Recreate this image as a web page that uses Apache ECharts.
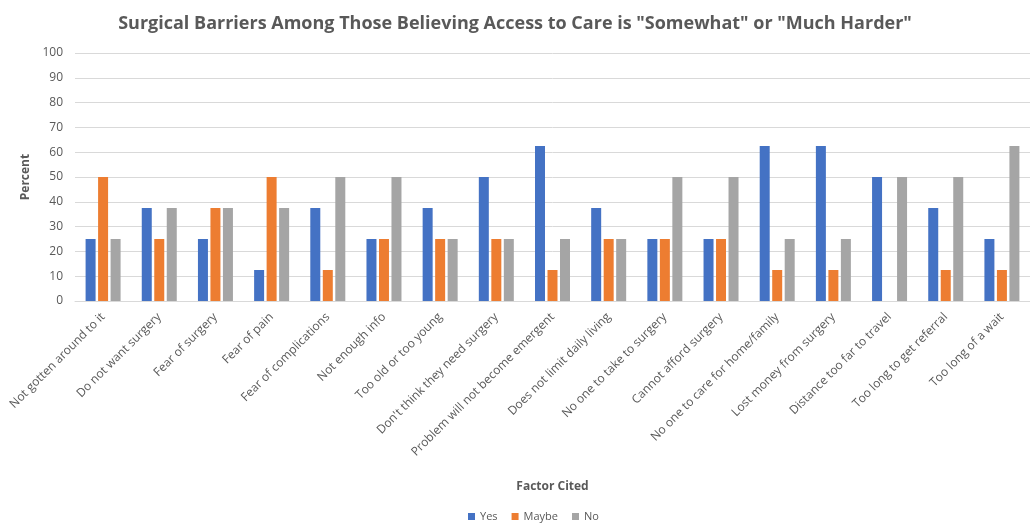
<!DOCTYPE html>
<html><head><meta charset="utf-8">
<script src="https://cdn.jsdelivr.net/npm/echarts@6/dist/echarts.min.js"></script>
<style>html,body{margin:0;padding:0;background:#fff}#c{width:1030px;height:529px}</style>
</head><body><div id="c"></div>
<script>
const categories = ["Not gotten around to it","Do not want surgery","Fear of surgery","Fear of pain","Fear of complications","Not enough info","Too old or too young","Don't think they need surgery","Problem will not become emergent","Does not limit daily living","No one to take to surgery","Cannot afford surgery","No one to care for home/family","Lost money from surgery","Distance too far to travel","Too long to get referral","Too long of a wait"];
const yesVals   = [25, 37.5, 25, 12.5, 37.5, 25, 37.5, 50, 62.5, 37.5, 25, 25, 62.5, 62.5, 50, 37.5, 25];
const maybeVals = [50, 25, 37.5, 50, 12.5, 25, 25, 25, 12.5, 25, 25, 25, 12.5, 12.5, 0, 12.5, 12.5];
const noVals    = [25, 37.5, 37.5, 37.5, 50, 50, 25, 25, 25, 25, 50, 50, 25, 25, 50, 50, 62.5];
const seriesNames = ["Yes", "Maybe", "No"];
const yTicks = {min: 0, max: 100, interval: 10};

const chart = echarts.init(document.getElementById('c'));
const txt = '#595959';
const ff = '"Open Sans", "Noto Sans", sans-serif';
chart.setOption({
  animation: false,
  title: {
    text: 'Surgical Barriers Among Those Believing Access to Care is "Somewhat" or "Much Harder"',
    left: 'center', top: 10,
    textStyle: {color: txt, fontSize: 18, fontWeight: 'bold', fontFamily: ff}
  },
  legend: {
    data: seriesNames, bottom: 2, left: 463,
    icon: 'rect', itemWidth: 7, itemHeight: 7, itemGap: 14,
    textStyle: {color: txt, fontSize: 11, fontFamily: ff}
  },
  grid: {left: 75, top: 53, width: 958, height: 248, containLabel: false},
  xAxis: {
    type: 'category', data: categories,
    name: 'Factor Cited', nameLocation: 'middle', nameGap: 180,
    nameTextStyle: {color: txt, fontSize: 12, fontWeight: 'bold', fontFamily: ff},
    axisLine: {lineStyle: {color: '#d9d9d9'}},
    axisTick: {show: false},
    axisLabel: {rotate: 45, color: txt, fontSize: 12, fontFamily: ff, interval: 0, margin: 14}
  },
  yAxis: {
    type: 'value', min: yTicks.min, max: yTicks.max, interval: yTicks.interval,
    name: 'Percent', nameLocation: 'middle', nameGap: 39, nameRotate: 90,
    nameTextStyle: {color: txt, fontSize: 12, fontWeight: 'bold', fontFamily: ff},
    axisLine: {show: false}, axisTick: {show: false},
    axisLabel: {color: txt, fontSize: 12, fontFamily: ff, margin: 12},
    splitLine: {lineStyle: {color: '#d9d9d9'}}
  },
  series: [
    {name: seriesNames[0], type: 'bar', data: yesVals, barWidth: 10, barGap: '25%', itemStyle: {color: '#4472C4'}},
    {name: seriesNames[1], type: 'bar', data: maybeVals, barWidth: 10, barGap: '25%', itemStyle: {color: '#ED7D31'}},
    {name: seriesNames[2], type: 'bar', data: noVals, barWidth: 10, barGap: '25%', itemStyle: {color: '#A5A5A5'}}
  ]
});
</script></body></html>
